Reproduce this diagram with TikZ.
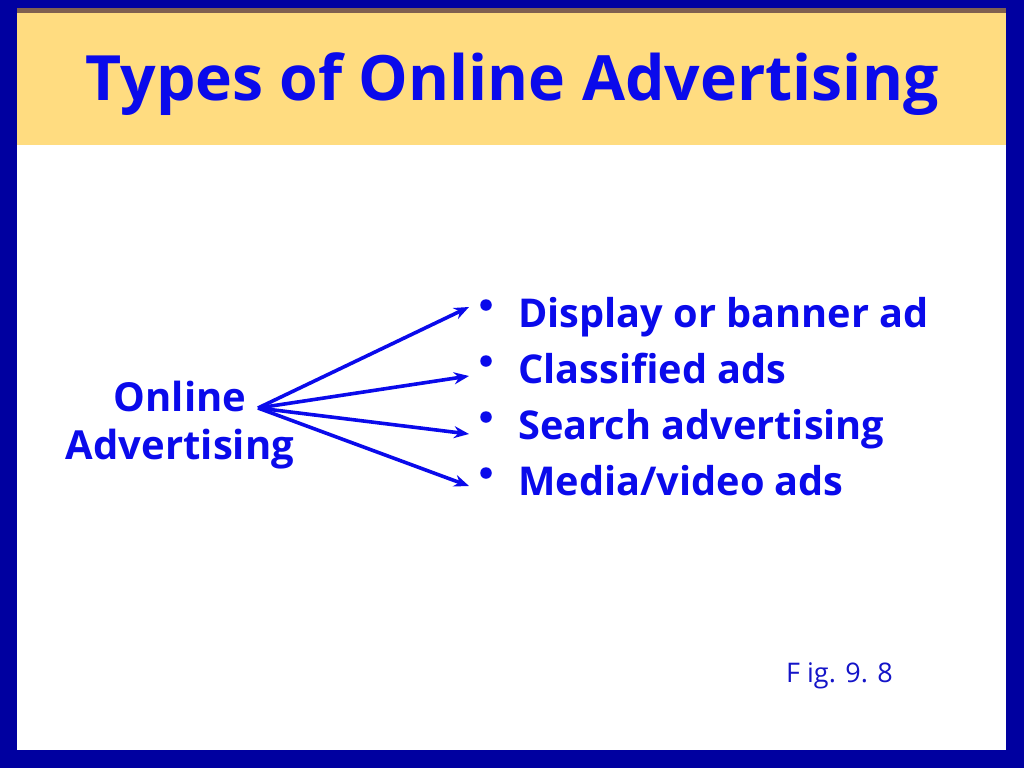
\documentclass[tikz,border=0pt]{standalone}
\usepackage{fontspec}
\setmainfont{Open Sans}
\usetikzlibrary{arrows.meta}
\definecolor{frame}{RGB}{0,0,160}
\definecolor{band}{RGB}{255,220,128}
\definecolor{bandline}{RGB}{128,96,80}
\definecolor{ink}{RGB}{10,10,235}
\definecolor{figink}{RGB}{20,20,200}
\tikzset{
  title/.style={anchor=base, inner sep=0pt, text=ink, font=\fontsize{62.5}{72}\selectfont\bfseries},
  hubtext/.style={anchor=center, inner sep=0pt, align=center, text=ink, font=\fontsize{40}{48}\selectfont\bfseries},
  item/.style={anchor=base west, inner sep=0pt, text=ink, font=\fontsize{39.7}{50}\selectfont\bfseries},
  dot/.style={circle, fill=ink, inner sep=0pt, minimum size=11.5pt},
  arr/.style={draw=ink, line width=3.6pt, -{Stealth[length=15pt,width=12pt]}},
  figlabel/.style={anchor=base west, inner sep=0pt, text=figink, font=\fontsize{27}{30}\selectfont}
}
\begin{document}
\begin{tikzpicture}[x=1pt,y=-1pt]
\useasboundingbox (0,0) rectangle (1024,768);
\fill[frame] (0,0) rectangle (1024,768);
\fill[white] (17,8) rectangle (1006,750);
\fill[band] (17,8) rectangle (1006,145);
\fill[bandline] (17,8) rectangle (1006,13);
\node[title] (t) at (512,100) {Types of Online Advertising};
\node[hubtext] (hub) at (180,425) {Online\\Advertising};
\coordinate (h) at (258,408);
\node[dot] (b1) at (486,305) {};
\node[dot] (b2) at (486,361) {};
\node[dot] (b3) at (486,417) {};
\node[dot] (b4) at (486,473) {};
\node[item] (i1) at (518,327) {Display or banner ad};
\node[item] (i2) at (518,383) {Classified ads};
\node[item] (i3) at (518,439) {Search advertising};
\node[item] (i4) at (518,495) {Media/video ads};
\coordinate (e1) at (469,307);
\coordinate (e2) at (469,376);
\coordinate (e3) at (469,434);
\coordinate (e4) at (469,486);
\draw[arr] (h) -- (e1);
\draw[arr] (h) -- (e2);
\draw[arr] (h) -- (e3);
\draw[arr] (h) -- (e4);
\node[figlabel] (fig) at (786,682) {F ig. 9. 8};
\end{tikzpicture}
\end{document}
